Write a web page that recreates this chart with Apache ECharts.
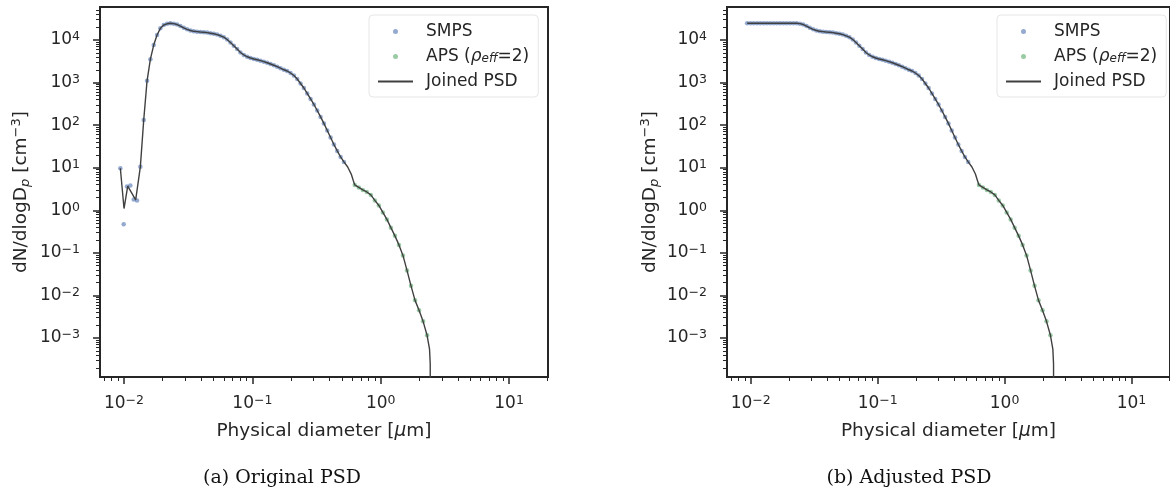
<!DOCTYPE html>
<html>
<head>
<meta charset="utf-8">
<script src="https://cdn.jsdelivr.net/npm/echarts@6/dist/echarts.min.js"></script>
<style>html,body{margin:0;padding:0;background:#fff;}#c{width:1170px;height:492px;}</style>
</head>
<body>
<div id="c"></div>
<script>
// ---------- DATA ----------
const smpsDiam = [0.009363,0.009941,0.01055,0.01121,0.01190,0.01263,0.01341,0.01424,0.01512,0.01605,
  0.01704,0.01809,0.01920,0.02039,0.02165,0.02298,0.02440,0.02591,0.02750,0.02920,
  0.03100,0.03292,0.03495,0.03710,0.03939,0.04182,0.04440,0.04714,0.05005,0.05314,
  0.05642,0.05990,0.06359,0.06751,0.07168,0.07610,0.08080,0.08578,0.09107,0.09669,
  0.1027,0.1090,0.1157,0.1229,0.1304,0.1385,0.1470,0.1561,0.1657,0.1760,
  0.1868,0.1983,0.2106,0.2236,0.2374,0.2520,0.2675,0.2841,0.3016,0.3202,
  0.3399,0.3609,0.3832,0.4068,0.4319,0.4586,0.4868,0.5169];
const smpsOrig = [9.7,0.47,3.6,3.8,1.8,1.69,10.6,132,1100,3550,
  7600,13100,18800,22500,24000,24650,24200,23100,21300,19300,
  17800,16700,16000,15700,15400,15250,14900,14450,14000,13400,
  12560,11640,10280,8740,7350,6150,5090,4450,4040,3780,
  3580,3430,3270,3100,2920,2730,2550,2360,2180,2000,
  1870,1680,1470,1216,953,746,555,412,306,221,
  156,110,75,51.4,35.2,24.8,17.9,13.7];
const smpsAdj = [24650,24650,24650,24650,24650,24650,24650,24650,24650,24650,
  24650,24650,24650,24650,24650,24650,24200,23100,21300,19300,
  17800,16700,16000,15700,15400,15250,14900,14450,14000,13400,
  12560,11640,10280,8740,7350,6150,5090,4450,4040,3780,
  3580,3430,3270,3100,2920,2730,2550,2360,2180,2000,
  1870,1680,1470,1216,953,746,555,412,306,221,
  156,110,75,51.4,35.2,24.8,17.9,13.7];
const apsDiam = [0.6277,0.6745,0.7248,0.7788,0.8374,0.8999,0.9672,1.039,1.117,1.200,
  1.290,1.387,1.490,1.602,1.722,1.851,1.989,2.138,2.297];
const apsConc = [3.94,3.45,3.01,2.70,2.30,1.71,1.30,0.893,0.611,0.391,
  0.251,0.154,0.0873,0.0388,0.0168,0.00767,0.00447,0.00247,0.00116];
const joinLowDiam = [0.009363,0.0100,0.01069,0.01233];
const joinLowConc = [9.7,1.1,3.7,1.75];
const bridgeDiam = [0.553,0.589,0.611];
const bridgeConc = [10.4,7.1,5.03];
const tailDiam = [2.40,2.43,2.44];
const tailConc = [5.5e-4,2.5e-4,1e-6];

const xTickVals = [0.01,0.1,1,10];
const xTickLabels = ['10{s|−2}','10{s|−1}','10{s|0}','10{s|1}'];
const yTickVals = [1e-3,1e-2,1e-1,1,10,100,1000,10000];
const yTickLabels = ['10{s|−3}','10{s|−2}','10{s|−1}','10{s|0}','10{s|1}','10{s|2}','10{s|3}','10{s|4}'];
const xMinorVals = [0.007,0.008,0.009,0.02,0.03,0.04,0.05,0.06,0.07,0.08,0.09,
  0.2,0.3,0.4,0.5,0.6,0.7,0.8,0.9,2,3,4,5,6,7,8,9,20];
const yMinorVals = [2e-4,3e-4,4e-4,5e-4,6e-4,7e-4,8e-4,9e-4,
  2e-3,3e-3,4e-3,5e-3,6e-3,7e-3,8e-3,9e-3,
  0.02,0.03,0.04,0.05,0.06,0.07,0.08,0.09,
  0.2,0.3,0.4,0.5,0.6,0.7,0.8,0.9,
  2,3,4,5,6,7,8,9, 20,30,40,50,60,70,80,90,
  200,300,400,500,600,700,800,900, 2000,3000,4000,5000,6000,7000,8000,9000,
  20000,30000,40000,50000];

const X_MIN = 0.0065, X_MAX = 20.1, Y_MIN = 1.216e-4, Y_MAX = 59570;

// ---------- BUILD ----------
function zip(a,b){return a.map((v,i)=>[v,b[i]]);}
const smpsLeft = zip(smpsDiam, smpsOrig);
const smpsRight = zip(smpsDiam, smpsAdj);
const apsPts = zip(apsDiam, apsConc);
const joinedLeft = zip(joinLowDiam, joinLowConc)
  .concat(zip(smpsDiam.slice(6), smpsOrig.slice(6)))
  .concat(zip(bridgeDiam, bridgeConc)).concat(apsPts).concat(zip(tailDiam, tailConc));
const joinedRight = smpsRight.concat(zip(bridgeDiam, bridgeConc)).concat(apsPts).concat(zip(tailDiam, tailConc));

const FONT = 'DejaVu Sans';
const INK = '#262626';
function lookup(vals, labels, v){
  for(let i=0;i<vals.length;i++){ if(Math.abs(Math.log10(v)-Math.log10(vals[i]))<1e-6) return labels[i]; }
  return '';
}
const supRich = { s: { fontSize: 12.5, fontFamily: FONT, color: INK, verticalAlign: 'top', lineHeight: 11 } };

function mainX(grid){
  return { type:'log', gridIndex:grid, min:X_MIN, max:X_MAX, position:'bottom',
    axisLine:{show:false}, splitLine:{show:false},
    axisTick:{show:true, customValues:xTickVals, length:7, lineStyle:{color:INK,width:1.5}},
    axisLabel:{customValues:xTickVals, margin:17, formatter:v=>lookup(xTickVals,xTickLabels,v),
      fontSize:17, fontFamily:FONT, color:INK, lineHeight:19, rich:supRich},
    name:'Physical diameter [{it|μ}m]', nameLocation:'middle', nameGap:45,
    nameTextStyle:{fontSize:18.5, fontFamily:FONT, color:INK, rich:{it:{fontSize:18.5,fontFamily:FONT,fontStyle:'italic',color:INK}}}
  };
}
function minorX(grid){
  return { type:'log', gridIndex:grid, min:X_MIN, max:X_MAX, position:'bottom', offset:0,
    axisLine:{show:false}, splitLine:{show:false}, axisLabel:{show:false},
    axisTick:{show:true, customValues:xMinorVals, length:4, lineStyle:{color:INK,width:1}} };
}
function mainY(grid, gap){
  return { type:'log', gridIndex:grid, min:Y_MIN, max:Y_MAX, position:'left',
    axisLine:{show:false}, splitLine:{show:false},
    axisTick:{show:true, customValues:yTickVals, length:7, lineStyle:{color:INK,width:1.5}},
    axisLabel:{customValues:yTickVals, margin:20, formatter:v=>lookup(yTickVals,yTickLabels,v),
      fontSize:17, fontFamily:FONT, color:INK, lineHeight:19, rich:supRich},
    name:'dN/dlogD{sub|p} [cm{sup|−3}]', nameLocation:'middle', nameGap:gap,
    nameTextStyle:{fontSize:18.5, fontFamily:FONT, color:INK, lineHeight:22, rich:{
      sub:{fontSize:13, fontFamily:FONT, fontStyle:'italic', color:INK, verticalAlign:'bottom', lineHeight:11},
      sup:{fontSize:13, fontFamily:FONT, color:INK, verticalAlign:'top', lineHeight:11}}}
  };
}
function minorY(grid){
  return { type:'log', gridIndex:grid, min:Y_MIN, max:Y_MAX, position:'left', offset:0,
    axisLine:{show:false}, splitLine:{show:false}, axisLabel:{show:false},
    axisTick:{show:true, customValues:yMinorVals, length:4, lineStyle:{color:INK,width:1}} };
}
function legend(left){
  return { left:left, top:15, orient:'vertical', selectedMode:false,
    itemWidth:35, itemHeight:5, itemGap:8, padding:[8,9,7,8],
    backgroundColor:'rgba(255,255,255,0.8)', borderColor:'#e6e6e6', borderWidth:1, borderRadius:4,
    data:['SMPS','APS',{name:'Joined PSD', itemStyle:{opacity:0}}],
    formatter: n => n==='APS' ? 'APS ({it|ρ}{sub|eff}=2)' : n,
    textStyle:{fontSize:17, fontFamily:FONT, color:INK, lineHeight:17, padding:[0,0,0,8],
      rich:{ it:{fontSize:17,fontFamily:FONT,fontStyle:'italic',color:INK},
             sub:{fontSize:12,fontFamily:FONT,fontStyle:'italic',color:INK,verticalAlign:'bottom',lineHeight:10} } }
  };
}
function series(xi, yi, smps, joined){
  return [
    { name:'SMPS', type:'scatter', xAxisIndex:xi, yAxisIndex:yi, data:smps, symbolSize:4.5, z:2,
      itemStyle:{color:'#4C72B0', opacity:0.6} },
    { name:'APS', type:'scatter', xAxisIndex:xi, yAxisIndex:yi, data:apsPts, symbolSize:4.5, z:2,
      itemStyle:{color:'#55A868', opacity:0.6} },
    { name:'Joined PSD', type:'line', xAxisIndex:xi, yAxisIndex:yi, data:joined, symbol:'none', z:3,
      clip:true, lineStyle:{color:'#404040', width:1.4}, itemStyle:{color:'#404040'} }
  ];
}

const chart = echarts.init(document.getElementById('c'), null, {renderer:'canvas'});
chart.setOption({
  animation:false,
  backgroundColor:'#ffffff',
  grid:[
    {left:100, top:7, width:448, height:370, show:true, borderColor:INK, borderWidth:2, backgroundColor:'transparent'},
    {left:727, top:7, width:448, height:370, show:true, borderColor:INK, borderWidth:2, backgroundColor:'transparent'}
  ],
  xAxis:[mainX(0), minorX(0), mainX(1), minorX(1)],
  yAxis:[mainY(0,68), minorY(0), mainY(1,66), minorY(1)],
  legend:[legend(369), legend(997)],
  series: series(0,0,smpsLeft,joinedLeft).concat(series(2,2,smpsRight,joinedRight)),
  graphic:[
    {type:'text', x:282, y:478, style:{text:'(a) Original PSD', font:'19px "DejaVu Serif"', fill:'#111', textAlign:'center', textVerticalAlign:'middle'}},
    {type:'text', x:909, y:478, style:{text:'(b) Adjusted PSD', font:'19px "DejaVu Serif"', fill:'#111', textAlign:'center', textVerticalAlign:'middle'}}
  ]
});
</script>
</body>
</html>
